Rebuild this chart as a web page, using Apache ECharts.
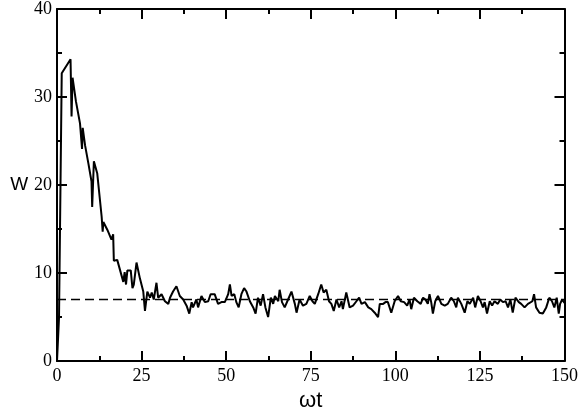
<!DOCTYPE html>
<html>
<head>
<meta charset="utf-8">
<script src="https://cdn.jsdelivr.net/npm/echarts@6/dist/echarts.min.js"></script>
<style>
  html, body { margin: 0; padding: 0; background: #fff; }
  #main { width: 581px; height: 417px; }
</style>
</head>
<body>
<div id="main"></div>
<script>
// W(ωt)
var tVals = [0, 0.6, 1.4, 4.0, 4.3, 4.6, 5.6, 6.8, 7.4, 7.6, 8.3, 9.3, 10.2, 10.4, 10.9, 11.9,
  13.2, 13.5, 13.7, 14.9, 16.1, 16.6, 16.8, 17.8, 19.6, 20.0, 20.4, 20.8, 21.8, 22.3, 22.7,
  23.5, 24.5, 25.5, 26.0, 26.7, 27.5, 28.0, 28.6, 29.4, 29.9, 30.9, 31.9, 32.9, 33.4, 34.3,
  35.3, 36.3, 37.3, 38.3, 39.1, 39.8, 40.2, 41.2, 41.7, 42.7, 43.7, 44.7, 45.4, 46.6, 47.6,
  48.6, 49.6, 50.6, 51.1, 51.6, 52.4, 53.0, 53.7, 54.5, 55.3, 56.0, 57.0, 58.0, 58.7, 59.4,
  60.2, 60.9, 61.6, 62.4, 63.2, 63.9, 64.4, 65.4, 65.8, 66.5, 67.3, 68.3, 69.3, 70.3, 70.8,
  71.7, 72.7, 73.7, 74.7, 75.5, 76.2, 77.2, 78.1, 78.8, 79.6, 80.4, 81.1, 81.8, 82.6, 83.4,
  84.1, 84.5, 85.5, 86.5, 87.5, 88.5, 89.3, 90.0, 91.0, 92.0, 92.9, 93.9, 94.9, 95.4, 96.4,
  97.1, 97.8, 98.8, 99.8, 100.8, 101.6, 102.6, 103.5, 104.2, 104.7, 105.5, 106.5, 107.5,
  108.2, 108.9, 109.6, 110.1, 110.6, 111.1, 111.8, 112.6, 113.6, 114.6, 115.5, 116.5, 117.3,
  118.0, 118.5, 119.5, 120.5, 121.3, 122.0, 123.0, 123.6, 124.4, 125.2, 125.9, 126.4, 127.1,
  127.9, 128.6, 129.3, 130.3, 131.0, 131.8, 132.6, 133.3, 134.0, 134.7, 135.5, 136.5, 137.2,
  138.2, 139.2, 140.5, 141.0, 141.6, 142.6, 143.6, 144.6, 145.5, 146.3, 147.0, 147.7, 148.3,
  148.7, 149.3, 150.0];
var wVals = [0, 5, 32.7, 34.3, 27.8, 32.2, 29.5, 27.0, 24.1, 26.5, 24.5, 22.4, 20.4, 17.5, 22.7, 21.3,
  16.4, 14.7, 15.8, 14.9, 13.8, 14.4, 11.4, 11.5, 9.0, 10.1, 8.7, 10.3, 10.3, 8.3, 8.7,
  11.2, 9.4, 7.9, 5.7, 7.9, 7.2, 7.8, 7.0, 8.9, 7.2, 7.6, 6.8, 6.5, 7.2, 7.9,
  8.5, 7.4, 7.0, 6.3, 5.4, 6.7, 6.1, 7.0, 6.1, 7.4, 6.7, 6.8, 7.6, 7.6, 6.5,
  6.7, 6.7, 7.6, 8.7, 7.4, 7.6, 6.7, 6.1, 7.6, 8.3, 7.9, 6.8, 6.1, 5.4, 7.2,
  6.3, 7.6, 6.1, 5.0, 7.2, 6.5, 7.4, 6.8, 8.1, 6.7, 6.1, 7.0, 7.9, 6.5, 5.5,
  7.0, 6.3, 6.5, 7.4, 6.8, 6.5, 7.6, 8.7, 7.8, 8.1, 6.8, 6.5, 5.7, 7.0, 6.1,
  6.8, 5.9, 7.8, 6.1, 6.3, 6.8, 7.2, 6.5, 6.7, 6.1, 5.9, 5.5, 5.0, 6.5, 6.5,
  6.7, 6.7, 5.5, 6.8, 7.4, 6.8, 6.7, 6.3, 7.0, 5.9, 7.2, 6.8, 6.5,
  7.2, 7.0, 6.5, 7.6, 6.7, 5.4, 6.8, 7.4, 6.5, 6.3, 6.5, 7.2, 6.8,
  6.1, 7.2, 6.5, 5.5, 6.8, 6.5, 7.2, 6.1, 7.4, 6.8, 6.1, 6.7, 5.4,
  6.8, 6.3, 6.8, 6.5, 7.0, 6.7, 6.8, 6.1, 7.0, 5.5, 7.2, 6.7, 6.5,
  6.1, 6.5, 6.8, 7.6, 6.1, 5.5, 5.4, 6.1, 7.2, 6.8, 6.1, 7.2, 5.4,
  6.5, 7.0, 6.6];
// reference level
var refT = [0, 150];
var refW = [7, 7];

var xTicks = [0, 25, 50, 75, 100, 125, 150];
var yTicks = [0, 10, 20, 30, 40];

function zip(a, b) {
    var out = [];
    for (var i = 0; i < a.length; i++) out.push([a[i], b[i]]);
    return out;
}

var serif = "'Liberation Serif', 'DejaVu Serif', serif";
var sans = "'Liberation Sans', Arial, sans-serif";

function frameAxis(pos, isX, labels) {
    var ax = {
        type: 'value',
        position: pos,
        min: isX ? xTicks[0] : yTicks[0],
        max: isX ? xTicks[xTicks.length - 1] : yTicks[yTicks.length - 1],
        interval: isX ? 25 : 10,
        splitLine: { show: false },
        axisLine: { show: true, onZero: false, lineStyle: { color: '#000', width: 2 } },
        axisTick: { show: true, inside: true, length: 10, lineStyle: { color: '#000', width: 2 } },
        minorTick: { show: true, splitNumber: 2, length: 5, lineStyle: { color: '#000', width: 2 } },
        axisLabel: { show: labels, color: '#000', fontFamily: serif, fontSize: 18, margin: 6 }
    };
    return ax;
}

var xMain = frameAxis('bottom', true, true);
xMain.name = 'ωt';
xMain.nameLocation = 'middle';
xMain.nameGap = 25;
xMain.nameTextStyle = { color: '#000', fontFamily: sans, fontSize: 22, verticalAlign: 'top' };

var yMain = frameAxis('left', false, true);
yMain.name = 'W';
yMain.nameLocation = 'middle';
yMain.nameRotate = 0;
yMain.nameGap = 12;
yMain.nameTextStyle = { color: '#000', fontFamily: sans, fontSize: 19, align: 'right', verticalAlign: 'middle' };
yMain.axisLabel.margin = 5;

var chart = echarts.init(document.getElementById('main'));
chart.setOption({
    animation: false,
    backgroundColor: '#fff',
    grid: { left: 57, right: 16, top: 9, bottom: 45 },
    xAxis: [xMain, frameAxis('top', true, false)],
    yAxis: [yMain, frameAxis('right', false, false)],
    series: [
        {
            type: 'line',
            data: zip(refT, refW),
            symbol: 'none',
            lineStyle: { color: '#000', width: 1.5, type: [9, 5] },
            z: 1
        },
        {
            type: 'line',
            data: zip(tVals, wVals),
            symbol: 'none',
            lineStyle: { color: '#000', width: 2 },
            z: 2
        }
    ]
});
</script>
</body>
</html>
